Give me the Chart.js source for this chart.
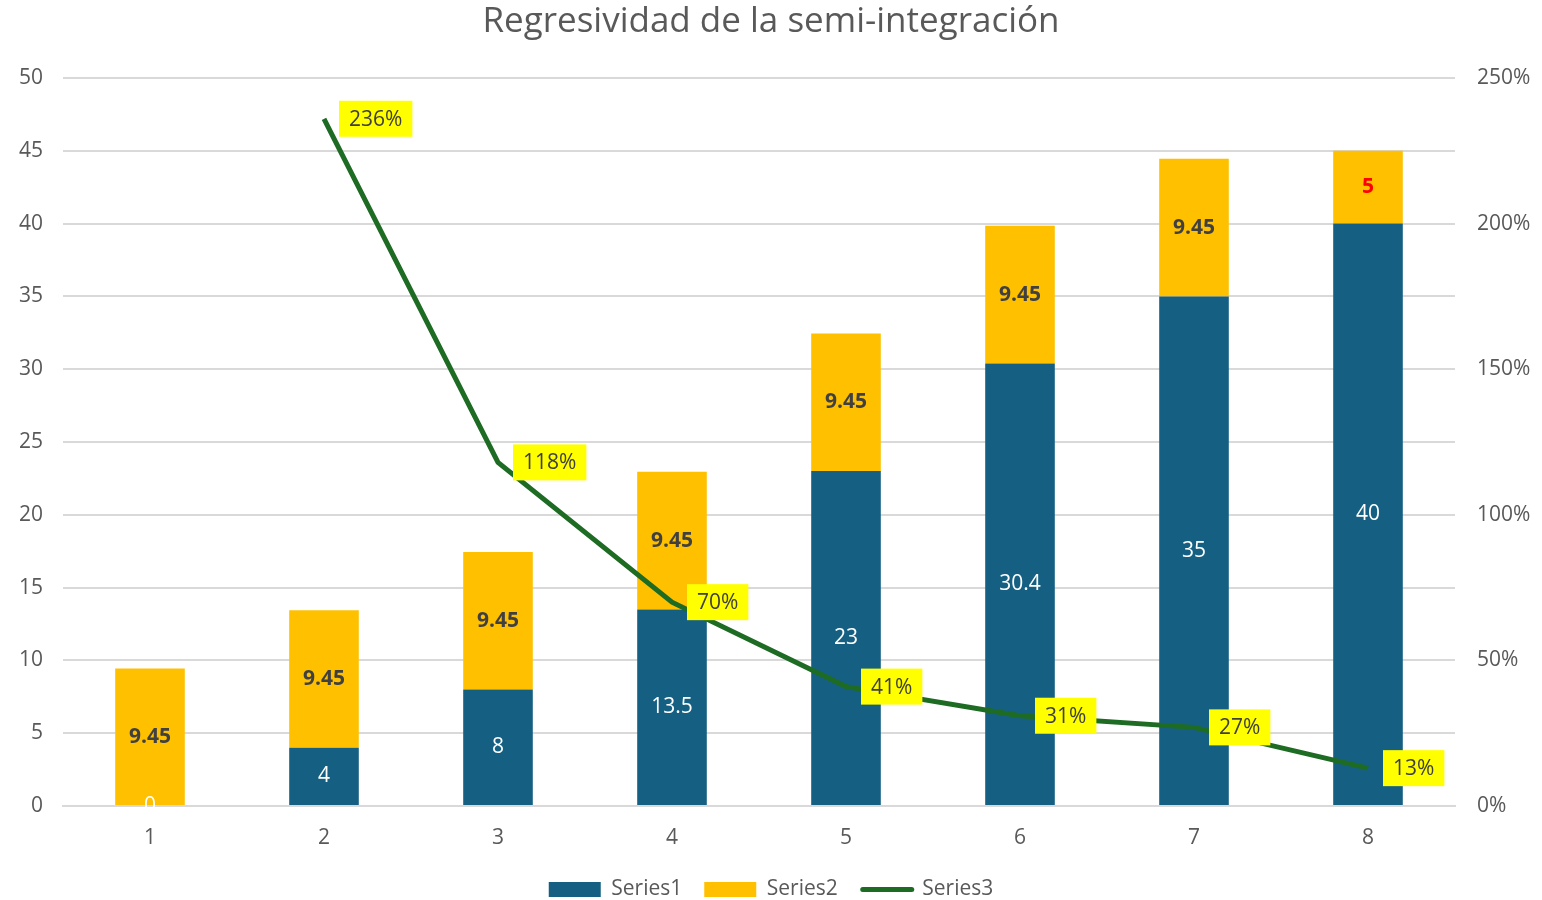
<!DOCTYPE html>
<html lang="es">
<head>
<meta charset="UTF-8">
<title>Regresividad de la semi-integración</title>
<script src="https://cdn.jsdelivr.net/npm/chart.js"></script>
<style>
  html, body { margin: 0; padding: 0; background: #fff; }
  #wrap { width: 1542px; height: 900px; }
</style>
</head>
<body>
<div id="wrap"><canvas id="myChart" width="1542" height="900"></canvas></div>
<script>
// data
const labels = ['1', '2', '3', '4', '5', '6', '7', '8'];
const series1 = [0, 4, 8, 13.5, 23, 30.4, 35, 40];
const series2 = [9.45, 9.45, 9.45, 9.45, 9.45, 9.45, 9.45, 5];
const series3 = [null, 2.36, 1.18, 0.70, 0.41, 0.31, 0.27, 0.13];

const FONT = '"Open Sans", "Liberation Sans", sans-serif';
const GREEN = '#1e6b24';

// simple data label drawing, no external plugin available
const labelPlugin = {
    id: 'labelPlugin',
    afterDatasetsDraw(chart) {
        const ctx = chart.ctx;
        ctx.save();
        ctx.textBaseline = 'middle';
        ctx.textAlign = 'center';

        // Series1 - white labels in the middle of the bar
        chart.getDatasetMeta(0).data.forEach((bar, i) => {
            const y = (bar.y + bar.base) / 2;
            ctx.font = '21px ' + FONT;
            ctx.fillStyle = '#ffffff';
            ctx.fillText(String(series1[i]), bar.x, series1[i] === 0 ? bar.y : y);
        });

        // Series2 - bold dark labels
        chart.getDatasetMeta(1).data.forEach((bar, i) => {
            const y = (bar.y + bar.base) / 2;
            ctx.font = 'bold 21px ' + FONT;
            ctx.fillStyle = i === 7 ? '#ff0000' : '#404040';
            ctx.fillText(String(series2[i]), bar.x, y);
        });

        // Series3 - percentages in yellow boxes right of the point
        ctx.font = '21px ' + FONT;
        chart.getDatasetMeta(2).data.forEach((pt, i) => {
            if (series3[i] === null) return;
            const txt = Math.round(series3[i] * 100) + '%';
            const w = ctx.measureText(txt).width + 20;
            const h = 36;
            const x0 = pt.x + 15;
            ctx.fillStyle = '#ffff00';
            ctx.fillRect(x0, pt.y - h / 2, w, h);
            ctx.fillStyle = '#404040';
            ctx.fillText(txt, x0 + w / 2, pt.y + 1);
        });
        ctx.restore();
    },
    afterDraw(chart) {
        // legend symbol for the line series
        const box = chart.legend.legendHitBoxes[2];
        if (!box) return;
        const ctx = chart.ctx;
        ctx.save();
        ctx.strokeStyle = GREEN;
        ctx.lineWidth = 5;
        ctx.lineCap = 'round';
        const y = box.top + box.height / 2;
        ctx.beginPath();
        ctx.moveTo(box.left + 3, y);
        ctx.lineTo(box.left + 52, y);
        ctx.stroke();
        ctx.restore();
    }
};

const ctx = document.getElementById('myChart').getContext('2d');
const myChart = new Chart(ctx, {
    type: 'bar',
    data: {
        labels: labels,
        datasets: [{
            label: 'Series1',
            data: series1,
            backgroundColor: '#156082',
            stack: 's',
            order: 1,
            barPercentage: 0.4,
            categoryPercentage: 1
        }, {
            label: 'Series2',
            data: series2,
            backgroundColor: '#ffc000',
            stack: 's',
            order: 1,
            barPercentage: 0.4,
            categoryPercentage: 1
        }, {
            type: 'line',
            label: 'Series3',
            data: series3,
            yAxisID: 'y1',
            borderColor: GREEN,
            backgroundColor: GREEN,
            borderWidth: 5,
            pointRadius: 0,
            tension: 0,
            order: 0
        }]
    },
    options: {
        responsive: false,
        animation: false,
        layout: { padding: { top: 0, bottom: -10, left: 0, right: 0 } },
        plugins: {
            title: {
                display: true,
                text: 'Regresividad de la semi-integración',
                color: '#595959',
                font: { family: FONT, size: 35, weight: 'normal' },
                padding: { top: 1, bottom: 35 }
            },
            legend: {
                position: 'bottom',
                labels: {
                    color: '#595959',
                    font: { family: FONT, size: 21 },
                    boxWidth: 52,
                    boxHeight: 15,
                    padding: 22,
                    generateLabels(chart) {
                        return chart.data.datasets.map((ds, i) => ({
                            text: ds.label,
                            fillStyle: ds.type === 'line' ? 'rgba(0,0,0,0)' : ds.backgroundColor,
                            strokeStyle: 'rgba(0,0,0,0)',
                            lineWidth: 0,
                            fontColor: '#595959',
                            datasetIndex: i
                        }));
                    }
                }
            },
            tooltip: { enabled: false }
        },
        scales: {
            x: {
                stacked: true,
                grid: { display: false },
                border: { color: '#d9d9d9', width: 2 },
                ticks: { color: '#595959', font: { family: FONT, size: 21 }, padding: 11 },
                afterFit(s) { s.height = 51; }
            },
            y: {
                stacked: true,
                min: 0,
                max: 50,
                ticks: { stepSize: 5, color: '#595959', font: { family: FONT, size: 21 }, padding: 20 },
                grid: { color: '#d9d9d9', lineWidth: 2, drawTicks: false },
                border: { display: false },
                afterFit(s) { s.width = 63; }
            },
            y1: {
                position: 'right',
                min: 0,
                max: 2.5,
                ticks: {
                    stepSize: 0.5,
                    color: '#595959',
                    font: { family: FONT, size: 21 },
                    padding: 22,
                    callback: v => Math.round(v * 100) + '%'
                },
                grid: { display: false, drawTicks: false },
                border: { display: false },
                afterFit(s) { s.width = 87; }
            }
        }
    },
    plugins: [labelPlugin]
});
</script>
</body>
</html>
